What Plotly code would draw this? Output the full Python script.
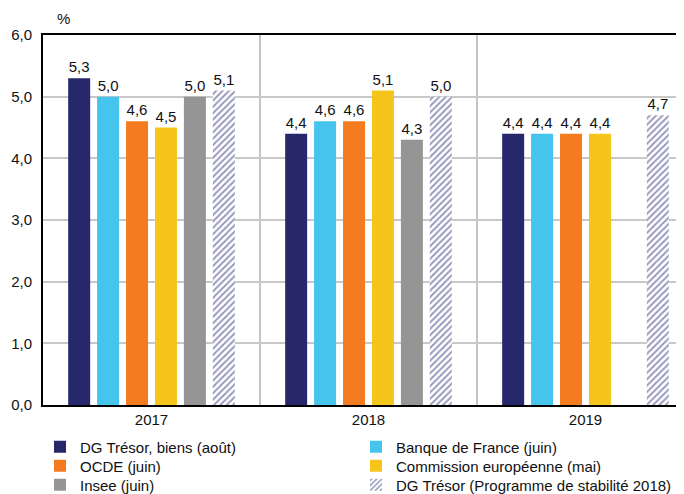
import plotly.graph_objects as go

categories = ["2017", "2018", "2019"]
series_names = [
    "DG Trésor, biens (août)",
    "Banque de France (juin)",
    "OCDE (juin)",
    "Commission européenne (mai)",
    "Insee (juin)",
    "DG Trésor (Programme de stabilité 2018)",
]
dg_tresor = [5.3, 4.4, 4.4]
banque_france = [5.0, 4.6, 4.4]
ocde = [4.6, 4.6, 4.4]
commission = [4.5, 5.1, 4.4]
insee = [5.0, 4.3, None]
dg_stabilite = [5.1, 5.0, 4.7]

series_values = [dg_tresor, banque_france, ocde, commission, insee, dg_stabilite]
colors = ["#27276B", "#45C4EE", "#F47B20", "#F6C51C", "#959595", "#FFFFFF"]

FONT = "Liberation Sans, Arial, sans-serif"
OFF = 8  # page body margin
W, H = 684 - OFF, 494 - OFF
LEFT, TOP, BOTTOM = 43 - OFF, 35 - OFF, 405 - OFF
PW, PH = W - LEFT, BOTTOM - TOP

# legend placement (2 columns x 3 rows), window pixels
leg_cols = [40, 356]
leg_rows = [447, 466, 485]

fig = go.Figure()
for i, (name, vals) in enumerate(zip(series_names, series_values)):
    marker = dict(color=colors[i], line=dict(width=0))
    if i == 5:
        marker = dict(
            color="#FFFFFF",
            line=dict(width=0),
            pattern=dict(shape="/", fgcolor="#2A2C78", bgcolor="#FFFFFF",
                         size=4.5, solidity=0.4),
        )
    leg_id = "legend" if i == 0 else f"legend{i + 1}"
    fig.add_trace(go.Bar(
        name=name,
        x=categories,
        y=vals,
        marker=marker,
        text=[None if v is None else f"{v:.1f}".replace(".", ",") for v in vals],
        textposition="outside",
        textfont=dict(size=15, color="#111111", family=FONT),
        cliponaxis=False,
        legend=leg_id,
    ))

legends = {}
for i in range(6):
    key = "legend" if i == 0 else f"legend{i + 1}"
    px_x = leg_cols[i % 2] - OFF
    px_y = leg_rows[i // 2] - OFF
    legends[key] = dict(
        orientation="h", x=(px_x - LEFT) / PW, y=(BOTTOM - px_y) / PH,
        xanchor="left", yanchor="middle", itemwidth=30,
        font=dict(size=15, family=FONT, color="#111111"),
        bgcolor="rgba(0,0,0,0)", borderwidth=0,
    )

# category separators
for xb in [0.5, 1.5]:
    fig.add_shape(type="line", xref="x", yref="y", x0=xb, x1=xb, y0=0, y1=6,
                  line=dict(color="#C4C4C4", width=2), layer="below")

fig.add_annotation(text="%", xref="paper", yref="paper",
                   x=(63 - OFF - LEFT) / PW, y=(BOTTOM - (18 - OFF)) / PH,
                   showarrow=False, font=dict(size=15, family=FONT, color="#111111"),
                   xanchor="center", yanchor="middle")

fig.update_layout(
    width=W, height=H,
    margin=dict(l=LEFT, r=0, t=TOP, b=H - BOTTOM, autoexpand=False),
    paper_bgcolor="white", plot_bgcolor="white",
    barmode="group", bargap=0.2, bargroupgap=0.24,
    separators=", ",
    font=dict(family=FONT, size=15, color="#111111"),
    showlegend=True,
    xaxis=dict(
        range=[-0.5, 2.454], showgrid=False, showline=True, linecolor="black",
        linewidth=2, mirror=True, ticks="", tickfont=dict(size=15), automargin=False,
    ),
    yaxis=dict(
        range=[0, 6], dtick=1, tickformat=".1f", showgrid=True, gridcolor="#C8C8C8",
        gridwidth=2, showline=True, linecolor="black", linewidth=2, ticks="",
        tickfont=dict(size=15), zeroline=False, ticklabelstandoff=6, automargin=False,
    ),
    **legends,
)

fig.write_html("out.html")
